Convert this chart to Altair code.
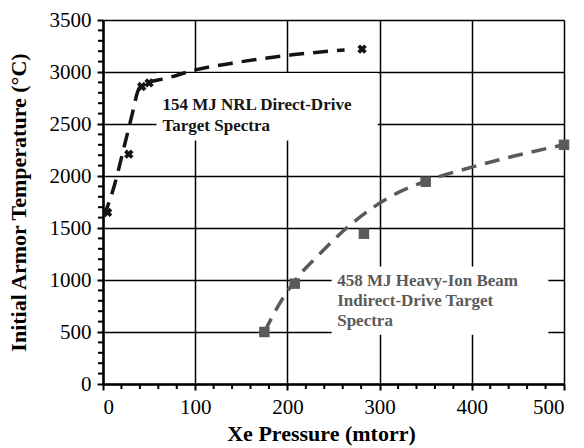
import altair as alt
import pandas as pd

# ---- data ----
nrl_x = [5, 28, 42, 50, 281]
nrl_y = [1650, 2210, 2860, 2895, 3220]
hib_x = [175, 208, 283, 350, 500]
hib_y = [500, 965, 1445, 1945, 2300]

nrl_fit_x = [1, 12, 24, 31, 39, 45, 70, 100, 140, 205, 262]
nrl_fit_y = [1610, 1900, 2320, 2570, 2840, 2885, 2942, 3020, 3085, 3165, 3212]
hib_fit_x = [175, 192, 208, 236, 263, 295, 320, 350, 400, 445, 500]
hib_fit_y = [500, 780, 990, 1260, 1490, 1710, 1840, 1950, 2085, 2190, 2300]

x_major = [0, 100, 200, 300, 400, 500]
y_major = [0, 500, 1000, 1500, 2000, 2500, 3000, 3500]
x_minor = [v for v in range(0, 501, 20) if v % 100]
y_minor = [v for v in range(0, 3501, 100) if v % 500]

label1 = ["154 MJ NRL Direct-Drive", "Target Spectra"]
label2 = ["458 MJ Heavy-Ion Beam", "Indirect-Drive Target", "Spectra"]

# annotation boxes / anchors (data units)
boxes = pd.DataFrame({
    "x": [58, 248], "x2": [298, 483],
    "y": [2990, 1131], "y2": [2342, 474],
})
lab1 = pd.DataFrame({"x": [64.5], "y": [2635]})
lab2 = pd.DataFrame({"x": [254], "y": [940]})

BLACK = "#141414"
GRAY = "#5a5a5a"
FONT = "Liberation Serif"
W, H = 461, 364

xs = alt.Scale(domain=[0, 500], nice=False)
ys = alt.Scale(domain=[0, 3500], nice=False)

x_axis = alt.Axis(values=x_major, format="d", orient="bottom", grid=True,
                  gridColor="black", gridWidth=1.5,
                  gridOpacity=1, tickSize=6, tickWidth=2, tickColor="black",
                  domainColor="black", domainWidth=2.5, labelFont=FONT,
                  labelFontSize=21, labelColor="black", labelPadding=6,
                  title="Xe Pressure (mtorr)", titleFont=FONT, titleFontSize=22,
                  titleFontWeight="bold", titleColor="black", titleX=218,
                  titleY=56, titleBaseline="alphabetic")
y_axis = alt.Axis(values=y_major, format="d", orient="left", grid=True,
                  gridColor="black", gridWidth=1.5,
                  gridOpacity=1, tickSize=6, tickWidth=2, tickColor="black",
                  domainColor="black", domainWidth=2.5, labelFont=FONT,
                  labelFontSize=21, labelColor="black", labelPadding=6,
                  title="Initial Armor Temperature (°C)", titleFont=FONT,
                  titleFontSize=22, titleFontWeight="bold", titleColor="black",
                  titleX=-85, titleY=182, titleAngle=-90, titleBaseline="middle")

box_layer = alt.Chart(boxes).mark_rect(fill="white", strokeWidth=0).encode(
    x=alt.X("x:Q", scale=xs, axis=x_axis),
    x2="x2:Q",
    y=alt.Y("y:Q", scale=ys, axis=y_axis),
    y2="y2:Q",
)

# minor ticks, positioned by the shared scales
xminor_df = pd.DataFrame({"x": x_minor})
yminor_df = pd.DataFrame({"y": y_minor})
xminor_layer = alt.Chart(xminor_df).mark_rule(color="black", strokeWidth=2,
                                              clip=False).encode(
    x=alt.X("x:Q", scale=xs, axis=None),
    y=alt.value(H), y2=alt.value(H + 5),
)
yminor_layer = alt.Chart(yminor_df).mark_rule(color="black", strokeWidth=2,
                                              clip=False).encode(
    y=alt.Y("y:Q", scale=ys, axis=None),
    x=alt.value(-5), x2=alt.value(0),
)

nrl_fit = pd.DataFrame({"x": nrl_fit_x, "y": nrl_fit_y})
hib_fit = pd.DataFrame({"x": hib_fit_x, "y": hib_fit_y})
nrl_pts = pd.DataFrame({"x": nrl_x, "y": nrl_y})
hib_pts = pd.DataFrame({"x": hib_x, "y": hib_y})

enc = dict(x=alt.X("x:Q", scale=xs, axis=None), y=alt.Y("y:Q", scale=ys, axis=None))

fit1 = alt.Chart(nrl_fit).mark_line(color=BLACK, strokeWidth=3.5,
                                     strokeDash=[15, 9], interpolate="monotone").encode(**enc)
fit2 = alt.Chart(hib_fit).mark_line(color=GRAY, strokeWidth=3.5,
                                     strokeDash=[15, 9], interpolate="monotone").encode(**enc)
pts1 = alt.Chart(nrl_pts).mark_point(shape="cross", angle=45, filled=True,
                                      size=90, color=BLACK, opacity=1).encode(**enc)
pts2 = alt.Chart(hib_pts).mark_square(size=110, color=GRAY, opacity=1).encode(**enc)
txt1 = alt.Chart(lab1).mark_text(text=label1, align="left", baseline="alphabetic",
                                 font=FONT, fontWeight="bold", fontSize=17,
                                 lineHeight=21, color=BLACK).encode(**enc)
txt2 = alt.Chart(lab2).mark_text(text=label2, align="left", baseline="alphabetic",
                                 font=FONT, fontWeight="bold", fontSize=17,
                                 lineHeight=20, color=GRAY).encode(**enc)

chart = alt.layer(box_layer, xminor_layer, yminor_layer, fit1, fit2, pts1, pts2,
                  txt1, txt2).resolve_axis(
    x="independent", y="independent"
).properties(
    width=W, height=H,
    autosize=alt.AutoSizeParams(type="none"),
    padding={"left": 103, "top": 20, "right": 20, "bottom": 64},
    background="white",
).configure_view(stroke=None)

chart.save("out.html", embed_options={"renderer": "svg", "actions": False})
